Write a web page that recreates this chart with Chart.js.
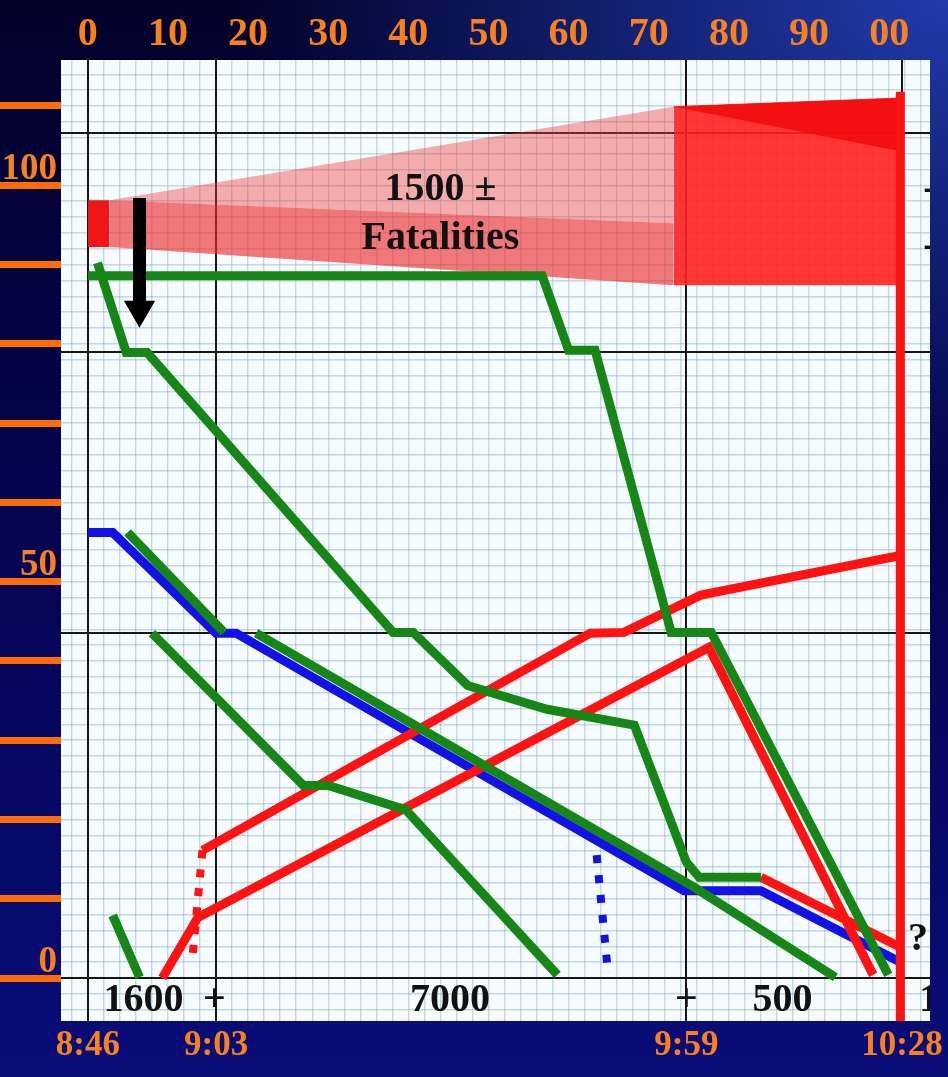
<!DOCTYPE html>
<html>
<head>
<meta charset="utf-8">
<script src="https://cdn.jsdelivr.net/npm/chart.js@4.4.1/dist/chart.umd.min.js"></script>
<style>
  html, body {
    margin: 0;
    padding: 0;
  }
  body {
    width: 948px;
    height: 1077px;
    overflow: hidden;
    background:
      radial-gradient(ellipse 75% 45% at 100% 0%, rgba(35, 65, 185, 0.9), rgba(35, 65, 185, 0) 100%),
      linear-gradient(180deg, #02022a 0%, #04044f 45%, #0a0d78 100%);
  }
  canvas { display: block; }
</style>
</head>
<body>
<canvas id="wtc-chart" width="948" height="1077"></canvas>
<script>
// Шкалы: минуты от 8:46 по горизонтали, этажи по вертикали
const minuteRange = [-3.35, 105.1];
const floorRange = [-5.42, 115.8];

const topTicks = [0, 10, 20, 30, 40, 50, 60, 70, 80, 90, 100];
const topLabels = ['0', '10', '20', '30', '40', '50', '60', '70', '80', '90', '00'];
const timeTicks = [0, 16, 74.7, 101.6];
const timeLabels = ['8:46', '9:03', '9:59', '10:28'];
const floorTicks = [0, 10, 20, 30, 40, 50, 60, 70, 80, 90, 100, 110];
const floorLabels = [0, 50, 100];
const lobbyFloors = [0, 43.5, 79, 106.6];

// Зона погибших
const wedgeTop = [[2.7, 98.1], [73.1, 109.9]];
const bandTop = [[2.7, 98.1], [73.1, 95.2]];
const bandBottom = [[2.7, 92.2], [73.1, 87.4]];
const startBlockTop = [[0, 98.1], [2.7, 98.1]];
const startBlockBottom = [[0, 92.2], [2.7, 92.2]];
const blockTop = [[73.1, 109.9], [101.4, 111.0]];
const blockShade = [[73.1, 109.9], [101.4, 104.3]];
const blockBottom = [[73.1, 87.4], [101.4, 87.4]];
const collapseLine = [[101.4, 111.8], [101.4, -5.5]];
const arrowShaft = [[6.45, 98.4], [6.45, 85.4]];
const arrowHead = [[6.45, 84.3]];

// Эвакуация
const greenA = [[0, 88.6], [56.7, 88.6], [60.0, 79.2], [63.3, 79.2], [72.8, 43.6], [77.8, 43.6], [99.9, 0.4]];
const greenB = [[1.2, 90.2], [4.8, 78.9], [7.4, 78.9], [38.1, 43.6], [40.6, 43.6], [47.4, 36.9], [57.3, 33.9], [68.2, 31.9], [74.7, 14.6], [76.3, 12.7], [84.0, 12.7]];
const greenC = [[4.96, 56.2], [17.0, 43.6], [19.0, null], [21.0, 43.5], [75.6, 11.5], [93.3, 0.1]];
const greenD = [[8.0, 43.5], [26.9, 24.3], [30.0, 24.3], [39.7, 21.2], [58.6, 0.4]];
const greenE = [[3.1, 7.9], [6.45, 0.1]];
const blueA = [[0, 56.2], [3.1, 56.2], [16.0, 43.5], [18.5, 43.5], [74.4, 11.0], [84.0, 11.0], [101.6, 1.9]];
const blueDots = [[63.5, 15.5], [64.8, 1.9]];
const redA = [[14.3, 16.1], [62.7, 43.5], [66.9, 43.6], [76.5, 48.3], [101.4, 53.3]];
const redADots = [[14.3, 16.1], [13.0, 1.9]];
const redB = [[9.3, 0], [13.7, 7.6], [14.8, 8.2], [77.5, 41.7], [98.0, 0.4]];
const redC = [[84.0, 12.7], [101.6, 3.8]];

// Подписи внутри графика
const notes = [
    { text: '1500 ±', x: 44, y: 99.4 },
    { text: 'Fatalities', x: 44, y: 93.3 },
    { text: '1600', x: 6.95, y: -2.8 },
    { text: '+', x: 15.8, y: -2.8 },
    { text: '7000', x: 45.2, y: -2.8 },
    { text: '+', x: 74.7, y: -2.8 },
    { text: '500', x: 86.7, y: -2.8 },
    { text: '?', x: 103.6, y: 4.8 },
    { text: '1', x: 105.0, y: -2.8 },
    { text: '-', x: 105.1, y: 99.4 },
    { text: '-', x: 105.1, y: 92.3 }
];

const serif = "'Liberation Serif', 'Times New Roman', serif";
const orange = '#f7801f';
const tickOrange = '#ff6a0a';
const green = '#168616';
const red = '#ff1212';
const blue = '#1212e6';

function pts(list) {
    return list.map(p => ({ x: p[0], y: p[1] }));
}

function series(list, color, width, order, extra) {
    return Object.assign({
        data: pts(list),
        borderColor: color,
        borderWidth: width,
        fill: false,
        pointRadius: 0,
        order: order,
        xAxisID: 'x',
        yAxisID: 'y'
    }, extra || {});
}

const hidden = 'rgba(0,0,0,0)';
const datasets = [];
function add(ds) {
    datasets.push(ds);
    return datasets.length - 1;
}

// Заливки: нижние границы добавляются первыми, чтобы знать индекс
const iBandBottom = add(series(bandBottom, hidden, 1, 20));
const iBandTop = add(series(bandTop, hidden, 1, 12, { fill: { target: iBandBottom }, backgroundColor: 'rgba(236, 45, 45, 0.64)' }));
add(series(wedgeTop, hidden, 1, 13, { fill: { target: iBandTop }, backgroundColor: 'rgba(240, 60, 60, 0.42)' }));
const iBlockBottom = add(series(blockBottom, hidden, 1, 20));
add(series(blockTop, 'rgba(255, 30, 30, 0.9)', 1, 11, { fill: { target: iBlockBottom }, backgroundColor: 'rgba(255, 32, 32, 0.9)' }));
const iShade = add(series(blockShade, hidden, 1, 20));
add(series(blockTop, hidden, 1, 10, { fill: { target: iShade }, backgroundColor: 'rgba(240, 8, 8, 0.8)' }));
const iStartBottom = add(series(startBlockBottom, hidden, 1, 20));
add(series(startBlockTop, hidden, 1, 9, { fill: { target: iStartBottom }, backgroundColor: '#f01616' }));

// Линии
add(series(blueA, blue, 9, 7));
add(series(blueDots, blue, 8, 7, { borderDash: [8, 12] }));
add(series(redA, red, 9, 6));
add(series(redB, red, 9, 6));
add(series(redC, red, 9, 6));
add(series(redADots, red, 8, 6, { borderDash: [8, 11] }));
add(series(greenA, green, 9, 4));
add(series(greenB, green, 9, 4));
add(series(greenC, green, 9, 4, { spanGaps: false }));
add(series(greenD, green, 9, 4));
add(series(greenE, green, 9, 4));
add(series(collapseLine, red, 9, 2));
add(series(arrowShaft, '#000', 13, 1));
add(series(arrowHead, '#000', 0, 0, {
    showLine: false,
    pointRadius: 18,
    pointStyle: 'triangle',
    pointRotation: 180,
    pointBackgroundColor: '#000',
    pointBorderWidth: 0
}));

// Миллиметровка под графиком
const paperPlugin = {
    id: 'paper',
    beforeDraw(chart) {
        const { ctx, chartArea: a } = chart;
        ctx.save();
        ctx.fillStyle = '#f6fbfd';
        ctx.fillRect(a.left, a.top, a.right - a.left, a.bottom - a.top);
        ctx.restore();
    }
};

const notesPlugin = {
    id: 'notes',
    afterDatasetsDraw(chart) {
        const { ctx, chartArea: a, scales } = chart;
        ctx.save();
        ctx.beginPath();
        ctx.rect(a.left, a.top, a.right - a.left, a.bottom - a.top);
        ctx.clip();
        ctx.fillStyle = '#111';
        ctx.textAlign = 'center';
        ctx.textBaseline = 'middle';
        ctx.font = 'bold 40px ' + serif;
        notes.forEach(n => {
            ctx.fillText(n.text, scales.x.getPixelForValue(n.x), scales.y.getPixelForValue(n.y));
        });
        ctx.restore();
    }
};

function setTicks(values) {
    return scale => { scale.ticks = values.map(v => ({ value: v })); };
}

function fixWidth(w) {
    return scale => { scale.width = w; scale.paddingTop = 0; scale.paddingBottom = 0; };
}

function fixHeight(h) {
    return scale => { scale.height = h; scale.paddingLeft = 0; scale.paddingRight = 0; };
}

function range(from, to, step) {
    const out = [];
    for (let v = from; v <= to; v += step) out.push(v);
    return out;
}

const minorColor = 'rgba(120, 165, 195, 0.4)';

new Chart(document.getElementById('wtc-chart').getContext('2d'), {
    type: 'line',
    data: { datasets: datasets },
    options: {
        responsive: false,
        animation: false,
        devicePixelRatio: 1,
        layout: { padding: { left: 0, right: 13, top: 0, bottom: 0 } },
        elements: {
            point: { radius: 0 },
            line: { tension: 0, borderCapStyle: 'butt', borderJoinStyle: 'miter' }
        },
        plugins: {
            legend: { display: false },
            tooltip: { enabled: false }
        },
        scales: {
            x: {
                type: 'linear',
                position: 'bottom',
                min: minuteRange[0],
                max: minuteRange[1],
                afterBuildTicks: setTicks(timeTicks),
                afterFit: fixHeight(56),
                ticks: {
                    autoSkip: false,
                    maxRotation: 0,
                    padding: 4,
                    color: orange,
                    font: { family: serif, size: 35, weight: 'bold' },
                    callback: (v, i) => timeLabels[i]
                },
                grid: { color: '#161616', lineWidth: 2, drawTicks: false },
                border: { display: false }
            },
            xMinor: {
                type: 'linear',
                position: 'bottom',
                min: minuteRange[0],
                max: minuteRange[1],
                afterBuildTicks: setTicks(range(-2, 104, 2)),
                afterFit: fixHeight(0),
                ticks: { display: false },
                grid: { color: minorColor, lineWidth: 1.4, drawTicks: false, z: -2 },
                border: { display: false }
            },
            xTop: {
                type: 'linear',
                position: 'top',
                min: minuteRange[0],
                max: minuteRange[1],
                afterBuildTicks: setTicks(topTicks),
                afterFit: fixHeight(60),
                ticks: {
                    autoSkip: false,
                    maxRotation: 0,
                    padding: 1,
                    color: orange,
                    font: { family: serif, size: 40, weight: 'bold' },
                    callback: (v, i) => topLabels[i]
                },
                grid: { display: false, drawTicks: false },
                border: { display: false }
            },
            y: {
                type: 'linear',
                position: 'left',
                min: floorRange[0],
                max: floorRange[1],
                afterBuildTicks: setTicks(floorTicks),
                afterFit: fixWidth(61),
                ticks: {
                    autoSkip: false,
                    padding: -57,
                    labelOffset: -16,
                    color: orange,
                    font: { family: serif, size: 37, weight: 'bold' },
                    callback: v => floorLabels.includes(v) ? String(v) : ''
                },
                grid: { drawOnChartArea: false, drawTicks: true, tickLength: 61, tickWidth: 7, tickColor: tickOrange },
                border: { display: false }
            },
            yMinor: {
                type: 'linear',
                position: 'left',
                min: floorRange[0],
                max: floorRange[1],
                afterBuildTicks: setTicks(range(-4, 114, 2)),
                afterFit: fixWidth(0),
                ticks: { display: false },
                grid: { color: minorColor, lineWidth: 1.4, drawTicks: false, z: -2 },
                border: { display: false }
            },
            yMajor: {
                type: 'linear',
                position: 'left',
                min: floorRange[0],
                max: floorRange[1],
                afterBuildTicks: setTicks(lobbyFloors),
                afterFit: fixWidth(0),
                ticks: { display: false },
                grid: { color: '#161616', lineWidth: 2, drawTicks: false },
                border: { display: false }
            }
        }
    },
    plugins: [paperPlugin, notesPlugin]
});
</script>
</body>
</html>
